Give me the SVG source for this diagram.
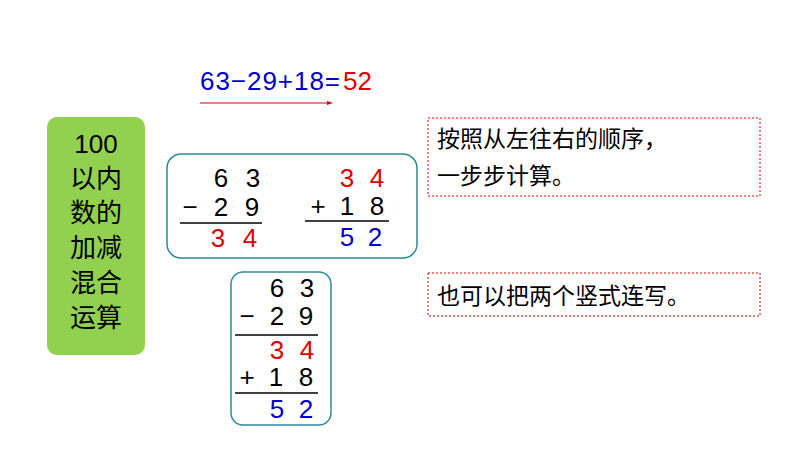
<svg xmlns="http://www.w3.org/2000/svg" width="794" height="457" viewBox="0 0 794 457">
<style>
.d{font-family:"Liberation Sans",Arial,sans-serif;font-size:26px;text-anchor:middle}
.k{fill:#000}.r{fill:#e00000}.b{fill:#0000cc}
.cn{font-family:"Noto Sans CJK SC",sans-serif;font-size:23px;fill:#000}
.box{fill:#fff;stroke:#2f8a93;stroke-width:1.5}
.note{fill:#fff;stroke:#e00000;stroke-width:1;stroke-dasharray:2 2}
.ln{stroke:#000;stroke-width:1.5}
</style>
<rect width="794" height="457" fill="#fff"/>
<g id="title">
<rect x="47" y="117" width="98" height="238" rx="10" fill="#92d050"/>
<text class="cn" text-anchor="middle" x="96" y="153" style="font-family:'Liberation Sans',sans-serif;font-size:26px">100</text>
<text class="cn" text-anchor="middle" x="96" y="188" style="font-size:26px">以内</text>
<text class="cn" text-anchor="middle" x="96" y="222" style="font-size:26px">数的</text>
<text class="cn" text-anchor="middle" x="96" y="257" style="font-size:26px">加减</text>
<text class="cn" text-anchor="middle" x="96" y="292" style="font-size:26px">混合</text>
<text class="cn" text-anchor="middle" x="96" y="327" style="font-size:26px">运算</text>
</g>
<g id="equation">
<text x="200" y="90" style="font-family:'Liberation Sans',Arial,sans-serif;font-size:26px" fill="#0000cc" textLength="140">63−29+18=</text>
<text x="343" y="90" style="font-family:'Liberation Sans',Arial,sans-serif;font-size:26px" fill="#e00000">52</text>
</g>
<g id="connectors">
<line x1="200" y1="103" x2="330" y2="103" stroke="#e00000" stroke-width="1"/>
<polygon points="333,103 327,101 327,105" fill="#e00000"/>
</g>
<g id="calc1">
<rect class="box" x="167" y="154" width="250" height="104" rx="14"/>
<text class="d k" x="221" y="187">6</text><text class="d k" x="253" y="187">3</text>
<text class="d k" x="190" y="216">−</text><text class="d k" x="221" y="216">2</text><text class="d k" x="252" y="216">9</text>
<line class="ln" x1="180" y1="223" x2="262" y2="223"/>
<text class="d r" x="218" y="247">3</text><text class="d r" x="250" y="247">4</text>
<text class="d r" x="347" y="187">3</text><text class="d r" x="377" y="187">4</text>
<text class="d k" x="318" y="215">+</text><text class="d k" x="347" y="215">1</text><text class="d k" x="377" y="215">8</text>
<line class="ln" x1="305" y1="221" x2="389" y2="221"/>
<text class="d b" x="347" y="246">5</text><text class="d b" x="375" y="246">2</text>
</g>
<g id="calc2">
<rect class="box" x="231" y="272" width="100" height="153" rx="12"/>
<text class="d k" x="277" y="297">6</text><text class="d k" x="307" y="297">3</text>
<text class="d k" x="247" y="325">−</text><text class="d k" x="277" y="325">2</text><text class="d k" x="306" y="325">9</text>
<line class="ln" x1="235" y1="335" x2="318" y2="335"/>
<text class="d r" x="277" y="359">3</text><text class="d r" x="307" y="359">4</text>
<text class="d k" x="247" y="386">+</text><text class="d k" x="276" y="386">1</text><text class="d k" x="306" y="386">8</text>
<line class="ln" x1="235" y1="393" x2="318" y2="393"/>
<text class="d b" x="277" y="418">5</text><text class="d b" x="306" y="418">2</text>
</g>
<g id="note1">
<rect class="note" x="428" y="118" width="332" height="78"/>
<text class="cn" x="437" y="147">按照从左往右的顺序，</text>
<text class="cn" x="437" y="184">一步步计算。</text>
</g>
<g id="note2">
<rect class="note" x="428" y="273" width="332" height="43"/>
<text class="cn" x="437" y="304">也可以把两个竖式连写。</text>
</g>
</svg>
